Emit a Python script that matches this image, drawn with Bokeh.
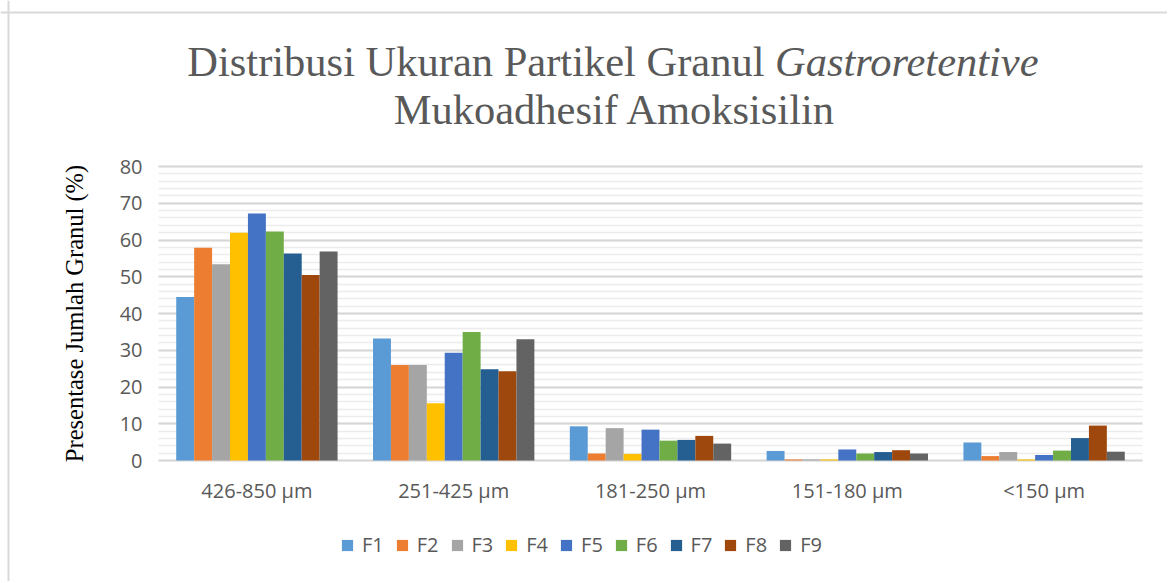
from bokeh.plotting import figure
from bokeh.models import (ColumnDataSource, Range1d, Legend, LegendItem, Label,
                          FixedTicker, Span)
from bokeh.transform import dodge
from bokeh.embed import file_html
from bokeh.resources import INLINE

categories = ["426-850 µm", "251-425 µm", "181-250 µm", "151-180 µm", "<150 µm"]
series_names = ["F1", "F2", "F3", "F4", "F5", "F6", "F7", "F8", "F9"]
F1 = [44.5, 33.2, 9.3, 2.6, 4.9]
F2 = [57.9, 26.0, 1.9, 0.3, 1.2]
F3 = [53.4, 26.0, 8.8, 0.3, 2.3]
F4 = [62.0, 15.6, 1.8, 0.3, 0.3]
F5 = [67.2, 29.3, 8.4, 3.0, 1.5]
F6 = [62.3, 35.0, 5.4, 1.9, 2.7]
F7 = [56.3, 24.8, 5.6, 2.3, 6.1]
F8 = [50.5, 24.3, 6.7, 2.8, 9.5]
F9 = [56.9, 33.0, 4.6, 1.9, 2.4]
series_values = [F1, F2, F3, F4, F5, F6, F7, F8, F9]
colors = ["#5B9BD5", "#ED7D31", "#A5A5A5", "#FFC000", "#4472C4",
          "#70AD47", "#255E91", "#9E480E", "#636363"]
y_ticks = [0, 10, 20, 30, 40, 50, 60, 70, 80]
y_minor_ticks = list(range(0, 81, 2))

title_regular = "Distribusi Ukuran Partikel Granul"
title_italic = "Gastroretentive"
title_line2 = "Mukoadhesif Amoksisilin"
y_label = "Presentase Jumlah Granul (%)"

W, H = 1167, 581
# plot area: categories span x 158..1142, values 0..80 span y 460..166 (canvas px)
px_per_cat = 984 / 5
px_per_unit = 294 / 80
x_lo = (0 - 158) / px_per_cat - 0.5
x_hi = (W - 158) / px_per_cat - 0.5
y_hi = 460 / px_per_unit
y_lo = -(H - 460) / px_per_unit

data = {"idx": list(range(len(categories))), "cat": categories}
for name, vals in zip(series_names, series_values):
    data[name] = vals
source = ColumnDataSource(data)

p = figure(x_range=Range1d(x_lo, x_hi), y_range=Range1d(y_lo, y_hi),
           width=W, height=H, output_backend="svg", toolbar_location=None,
           title=None, min_border=0)
p.outline_line_color = None

bw = 0.0911
renderers = []
for i, (name, col) in enumerate(zip(series_names, colors)):
    r = p.vbar(x=dodge("idx", (i - 4) * bw), top=name,
               width=bw, source=source, fill_color=col, line_color=None)
    renderers.append((name, r))

n = len(categories)
xa = p.xaxis[0]
xa.ticker = FixedTicker(ticks=list(range(n)))
xa.major_label_overrides = {i: c for i, c in enumerate(categories)}
xa.fixed_location = 0
xa.bounds = (-0.5, n - 0.5)
xa.major_label_standoff = 10

ya = p.yaxis[0]
ya.ticker = FixedTicker(ticks=y_ticks, minor_ticks=y_minor_ticks)
ya.fixed_location = -0.5
ya.bounds = (0, 80)
ya.major_label_standoff = 10
ya.axis_label = y_label
ya.axis_label_text_font = "Liberation Serif"
ya.axis_label_text_font_style = "normal"
ya.axis_label_text_font_size = "24.5px"
ya.axis_label_text_color = "#000000"
ya.axis_label_standoff = 29

for ax in (xa, ya):
    ax.axis_line_color = None
    ax.major_tick_line_color = None
    ax.minor_tick_line_color = None
    ax.major_label_text_font = "Open Sans"
    ax.major_label_text_color = "#595959"
    ax.major_label_text_font_size = "20px"

p.xgrid.grid_line_color = None
yg = p.ygrid[0]
yg.ticker = ya.ticker
yg.grid_line_color = "#d6d6d6"
yg.grid_line_width = 1.8
yg.minor_grid_line_color = "#ececec"
yg.minor_grid_line_width = 1.6
yg.bounds = (0, 80)
try:
    yg.cross_bounds = (-0.5, n - 0.5)
except Exception:
    pass

legend = Legend(items=[LegendItem(label=nm, renderers=[r]) for nm, r in renderers],
                orientation="horizontal", location=(340, H - 558),
                glyph_width=14, glyph_height=14, label_standoff=8, spacing=11,
                padding=0, margin=0, border_line_color=None,
                background_fill_alpha=0,
                label_text_font="Open Sans", label_text_font_size="20px",
                label_text_color="#595959")
p.add_layout(legend, "center")

# chart border (top and left edges)
p.add_layout(Span(location=H - 12, location_units="screen", dimension="width",
                  line_color="#d9d9d9", line_width=2))
p.add_layout(Span(location=8, location_units="screen", dimension="height",
                  line_color="#d9d9d9", line_width=2))

common = dict(x_units="screen", y_units="screen", text_font="Liberation Serif",
              text_font_size="42.5px", text_color="#595959",
              text_baseline="alphabetic")
p.add_layout(Label(x=764, y=H - 61, text=title_regular, text_align="right", **common))
p.add_layout(Label(x=774.5, y=H - 61, text=title_italic, text_align="left",
                   text_font_style="italic", **common))
p.add_layout(Label(x=614.5, y=H - 109, text=title_line2, text_align="center", **common))

open("out.html", "w").write(file_html(p, INLINE))
